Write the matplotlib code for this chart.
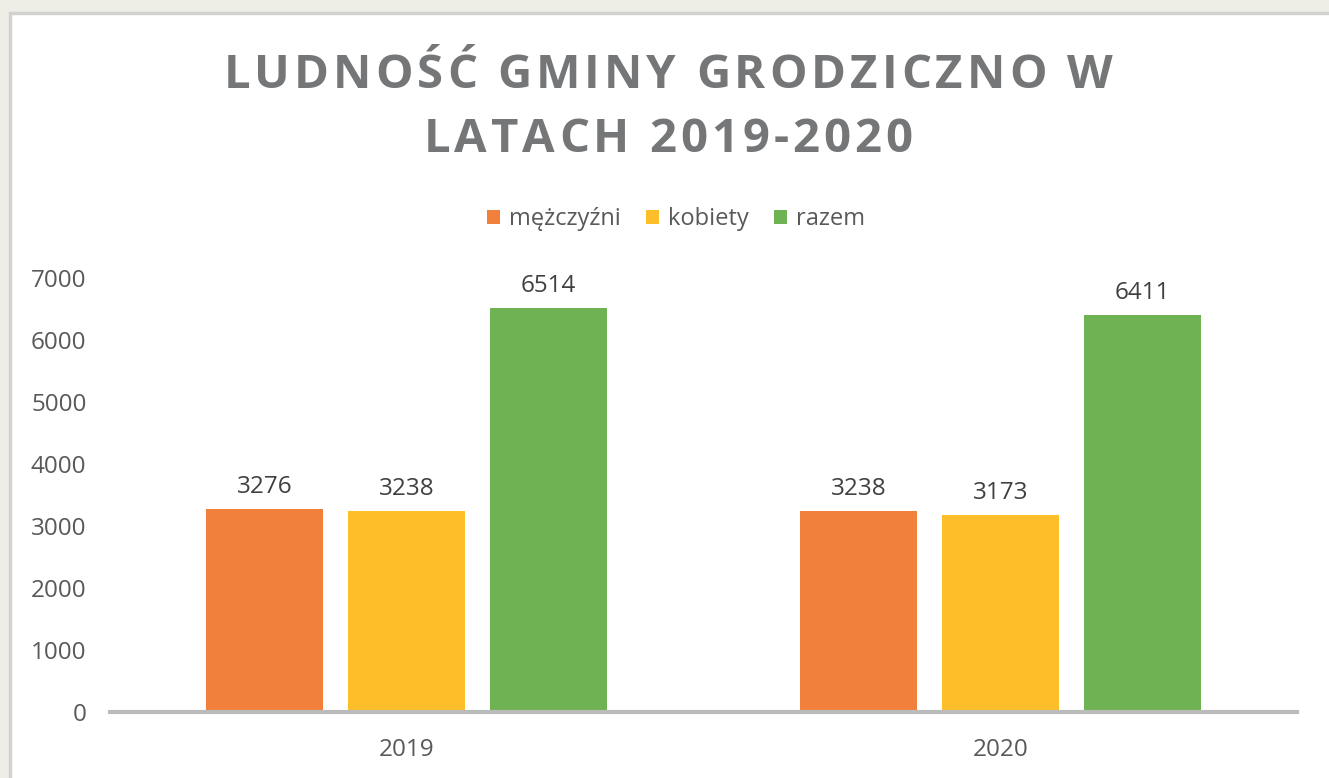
import numpy as np
import matplotlib
matplotlib.use("Agg")
import matplotlib.pyplot as plt
from matplotlib.patches import Rectangle

plt.rcParams['font.family'] = ['Open Sans', 'DejaVu Sans']

# data
years = ['2019', '2020']
series_names = ['mężczyźni', 'kobiety', 'razem']
men = [3276, 3238]
women = [3238, 3173]
total = [6514, 6411]
colors = ['#F0803C', '#FDBE2A', '#6FB254']
title_lines = ['LUDNOŚĆ GMINY GRODZICZNO W', 'LATACH 2019-2020']

W, H = 1329, 778
fig = plt.figure(figsize=(W / 100, H / 100), dpi=100, facecolor='#EFEEE6')

# white chart area with light grey frame
fig.patches.append(Rectangle((10 / W, -0.05), 1.2, 1 - 13 / H + 0.05,
                             transform=fig.transFigure, facecolor='white',
                             edgecolor='#D2D3D1', linewidth=2.5, zorder=-1))

ax = fig.add_axes([110 / W, 1 - 712 / H, (1297 - 110) / W, (712 - 278) / H])
ax.set_facecolor('none')
ax.set_zorder(2)

x = np.arange(len(years))
width = 0.197
step = 0.239
for i, (vals, name) in enumerate(zip([men, women, total], series_names)):
    bars = ax.bar(x + (i - 1) * step, vals, width, color=colors[i], label=name, zorder=2)
    for b, v in zip(bars, vals):
        ax.annotate(str(v), (b.get_x() + b.get_width() / 2, v), xytext=(0, 11.5),
                    textcoords='offset points', ha='center', va='baseline',
                    fontsize=17.5, color='#404040')

ax.set_xlim(-0.5, 1.5)
ax.set_ylim(0, 7000)
ax.set_yticks(range(0, 7001, 1000))
ax.set_xticks(x)
ax.set_xticklabels(years)
ax.tick_params(axis='both', length=0, labelsize=17.5, labelcolor='#595959')
ax.tick_params(axis='x', pad=19)
ax.tick_params(axis='y', pad=17)
for s in ['top', 'right', 'left']:
    ax.spines[s].set_visible(False)
ax.spines['bottom'].set_color('#B9BCBB')
ax.spines['bottom'].set_linewidth(3)
ax.spines['bottom'].set_zorder(3)


def spaced_text(line, cx, base_y, spacing, **kw):
    """draw a line of text with extra letter spacing (pixels), centred on cx"""
    r = fig.canvas.get_renderer()
    widths = []
    for ch in line:
        t = fig.text(0, 0, ch if ch != ' ' else 'a a', **kw)
        w = t.get_window_extent(r).width
        if ch == ' ':
            t.set_text('aa')
            w -= t.get_window_extent(r).width
        widths.append(w)
        t.remove()
    tot = sum(widths) + spacing * (len(line) - 1)
    xpos = cx - tot / 2
    for ch, w in zip(line, widths):
        if ch != ' ':
            fig.text(xpos / W, 1 - base_y / H, ch, ha='left', va='baseline', **kw)
        xpos += w + spacing


title_kw = dict(fontsize=34, fontweight='bold', color='#747678')
spaced_text(title_lines[0], 668, 88, 4.0, **title_kw)
spaced_text(title_lines[1], 668, 152, 4.0, **title_kw)

leg = fig.legend(loc='center', bbox_to_anchor=(676 / W, 1 - 219 / H), ncol=3,
                 frameon=False, fontsize=17, handlelength=0.55, handleheight=0.55,
                 handletextpad=0.4, columnspacing=1.05)
for t in leg.get_texts():
    t.set_color('#595959')

fig.savefig('out.png', dpi=100, facecolor=fig.get_facecolor())
